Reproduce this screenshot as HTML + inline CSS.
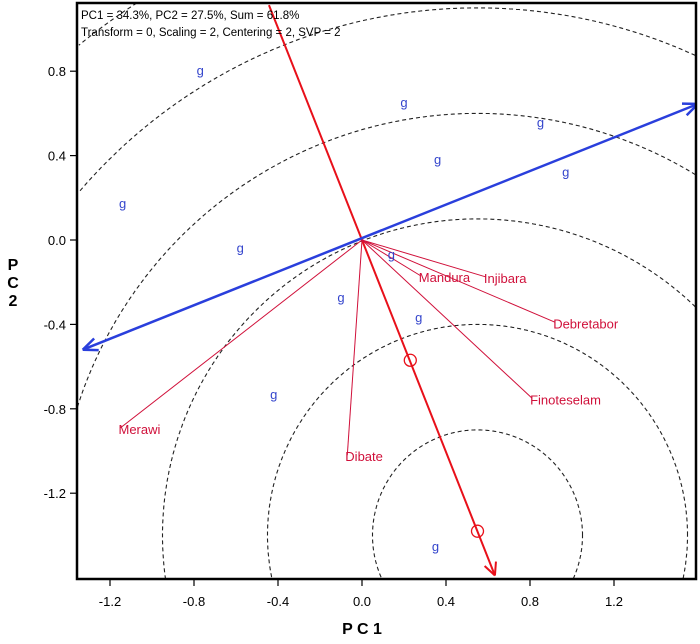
<!DOCTYPE html>
<html><head><meta charset="utf-8"><style>
html,body{margin:0;padding:0;background:#fff;width:700px;height:644px;overflow:hidden;}
svg{display:block;font-family:"Liberation Sans",sans-serif;}
</style></head><body>
<svg id="chart" width="700" height="644" xmlns="http://www.w3.org/2000/svg">
<defs><clipPath id="clip"><rect x="77" y="3" width="619" height="576"/></clipPath></defs>
<g id="plot" clip-path="url(#clip)"></g>
<rect x="77" y="3" width="619" height="576" fill="none" stroke="#000" stroke-width="2.5"/>
<text x="81" y="19" font-size="11.5">PC1 = 34.3%, PC2 = 27.5%, Sum = 61.8%</text>
<text x="81" y="36" font-size="11.5">Transform = 0, Scaling = 2, Centering = 2, SVP = 2</text>
<g id="axes"></g>
<text x="362" y="634" font-size="16" font-weight="bold" text-anchor="middle">P C 1</text>
<g font-size="16" font-weight="bold" text-anchor="middle">
<text x="13" y="270">P</text><text x="13" y="288">C</text><text x="13" y="306">2</text></g>
</svg>
<script>
const xTicks=[-1.2,-0.8,-0.4,0.0,0.4,0.8,1.2];
const yTicks=[0.8,0.4,0.0,-0.4,-0.8,-1.2];
const genoX=[-0.77,0.20,0.85,0.36,0.97,-1.14,-0.58,0.14,-0.10,0.27,-0.42,0.35];
const genoY=[0.80,0.65,0.555,0.38,0.32,0.17,-0.04,-0.07,-0.275,-0.37,-0.735,-1.455];
const envNames=["Merawi","Dibate","Mandura","Injibara","Debretabor","Finoteselam"];
const envX=[-1.15,-0.07,0.28,0.59,0.92,0.81];
const envY=[-0.89,-1.02,-0.17,-0.175,-0.39,-0.75];
const aecTip=[0.633,-1.59];
const aecMarksX=[0.23,0.55];
const aecMarksY=[-0.57,-1.38];
const idealX=0.55, idealY=-1.40;
const circleRadii=[0.5,1.0,1.5,2.0,2.5,3.0,3.5];
const blueEnds=[[-1.33,-0.52],[1.60,0.645]];

const X0=362,Y0=240,SX=210,SY=211;
const L=77,T=3,R=696,B=579;
const sx=v=>X0+v*SX, sy=v=>Y0-v*SY;
const NS="http://www.w3.org/2000/svg";
const plot=document.getElementById('plot'), axes=document.getElementById('axes');
function mk(tag,attrs,parent){const e=document.createElementNS(NS,tag);for(const k in attrs)e.setAttribute(k,attrs[k]);parent.appendChild(e);return e;}

circleRadii.forEach(r=>{
  const cx=sx(idealX),cy=sy(idealY);
  let d='',pen=false;
  for(let i=0;i<=1440;i++){
    const a=i/1440*2*Math.PI;
    const px=cx+r*SX*Math.cos(a),py=cy-r*SY*Math.sin(a);
    const inside=px>=L&&px<=R&&py>=T&&py<=B;
    if(inside){d+=(pen?'L':'M')+px.toFixed(1)+' '+py.toFixed(1);pen=true;}else pen=false;
  }
  if(!d)return;
  const c=mk('path',{d:d,fill:'none',stroke:'#222','stroke-width':1.1,'stroke-dasharray':'4,3'},plot);
  
  
});
const dx=aecTip[0],dy=aecTip[1];
const l=mk('line',{x1:sx(-dx*0.7),y1:sy(-dy*0.7),x2:sx(dx),y2:sy(dy),stroke:'#e8101a','stroke-width':2},plot);


const tx=sx(dx),ty=sy(dy),ang=Math.atan2(ty-Y0,tx-X0);
[0.45,-0.45].forEach(a=>{
  const h=mk('line',{x1:tx,y1:ty,x2:tx-14*Math.cos(ang+a),y2:ty-14*Math.sin(ang+a),stroke:'#e8101a','stroke-width':2},plot);
  
  
});
aecMarksX.forEach((v,i)=>{
  const c=mk('circle',{cx:sx(v),cy:sy(aecMarksY[i]),r:6,fill:'none',stroke:'#e8101a','stroke-width':1.3},plot);
  
  
});
const b=mk('line',{x1:sx(blueEnds[0][0]),y1:sy(blueEnds[0][1]),x2:sx(blueEnds[1][0]),y2:sy(blueEnds[1][1]),stroke:'#2a3fdc','stroke-width':2.5},plot);


blueEnds.forEach(p=>{
  const px=sx(p[0]),py=sy(p[1]),an=Math.atan2(py-Y0,px-X0);
  [0.4,-0.4].forEach(a=>{
    const h=mk('line',{x1:px,y1:py,x2:px-16*Math.cos(an+a),y2:py-16*Math.sin(an+a),stroke:'#2a3fdc','stroke-width':2.5},plot);
    
    
  });
});
envNames.forEach((n,i)=>{
  const v=mk('line',{x1:X0,y1:Y0,x2:sx(envX[i]),y2:sy(envY[i]),stroke:'#d0103a','stroke-width':1},plot);
  
  
  const t=mk('text',{x:sx(envX[i])-2,y:sy(envY[i])+6,'font-size':13,fill:'#d0103a'},plot);
  t.textContent=n;
  
  
});
genoX.forEach((v,i)=>{
  const t=mk('text',{x:sx(v),y:sy(genoY[i])+4,'font-size':13,fill:'#3344cc','text-anchor':'middle'},plot);
  t.textContent='g';
  
  
});
xTicks.forEach(v=>{
  const t=mk('line',{x1:sx(v),y1:579,x2:sx(v),y2:586,stroke:'#000','stroke-width':1.2},axes);
  
  
  const l=mk('text',{x:sx(v),y:606,'font-size':13,'text-anchor':'middle'},axes);
  l.textContent=v.toFixed(1);
  
  
});
yTicks.forEach(v=>{
  const t=mk('line',{x1:70,y1:sy(v),x2:77,y2:sy(v),stroke:'#000','stroke-width':1.2},axes);
  
  
  const l=mk('text',{x:66,y:sy(v)+5,'font-size':13,'text-anchor':'end'},axes);
  l.textContent=v.toFixed(1);
  
  
});
</script>
</body></html>
